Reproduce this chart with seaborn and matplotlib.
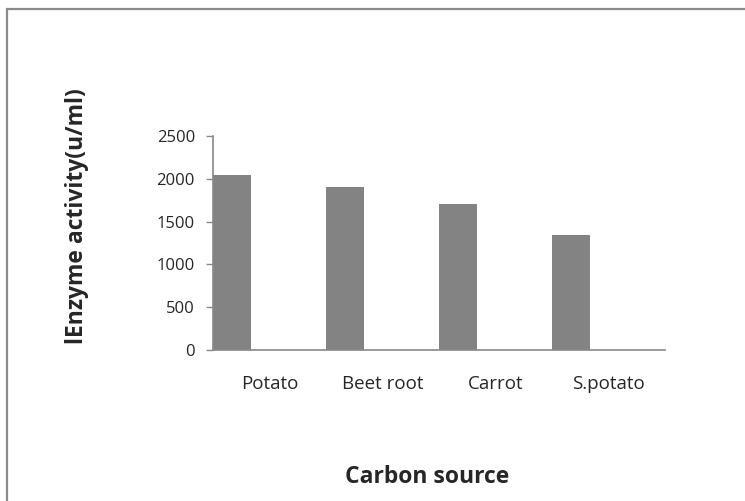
import matplotlib
matplotlib.use("Agg")
import matplotlib.pyplot as plt
import seaborn as sns
import pandas as pd
from matplotlib.patches import Rectangle

categories = ["Potato", "Beet root", "Carrot", "S.potato"]
activity = [2040, 1905, 1700, 1345]
series_names = ["Activity", "blank1", "blank2"]
yticks = [0, 500, 1000, 1500, 2000, 2500]

rows = []
for c, v in zip(categories, activity):
    rows.append({"cat": c, "series": series_names[0], "val": v})
    rows.append({"cat": c, "series": series_names[1], "val": 0})
    rows.append({"cat": c, "series": series_names[2], "val": 0})
df = pd.DataFrame(rows)

sns.set_theme(style="white")
plt.rcParams["font.family"] = ["Open Sans", "DejaVu Sans"]

fig = plt.figure(figsize=(7.45, 5.01), dpi=100)
ax = fig.add_axes([213/745, 1-350/501, 452/745, 214/501])

sns.barplot(data=df, x="cat", y="val", hue="series", order=categories,
            hue_order=series_names, width=1.0, dodge=True,
            palette=["#838383", "#838383", "#838383"], linewidth=0,
            errorbar=None, legend=False, ax=ax)

ax.set_xlim(-0.5, 3.5)
ax.set_ylim(0, 2500)
ax.set_yticks(yticks)
ax.set_yticklabels([str(t) for t in yticks], fontsize=12)
ax.set_xticks(range(len(categories)))
ax.set_xticklabels(categories, fontsize=13.5)
ax.tick_params(axis="y", length=5, width=1, color="#888888", pad=8, left=True)
ax.tick_params(axis="x", length=0, pad=18)

for s in ["top", "right"]:
    ax.spines[s].set_visible(False)
for s in ["left", "bottom"]:
    ax.spines[s].set_color("#888888")
    ax.spines[s].set_linewidth(1.2)

ax.set_xlabel("Carbon source", fontsize=16.5, fontweight="bold")
ax.set_ylabel("lEnzyme activity(u/ml)", fontsize=16.5, fontweight="bold")
ax.xaxis.set_label_coords(0.473, -0.537)
ax.yaxis.set_label_coords(-0.275, 0.626)

frame = Rectangle((7.5/745, -0.1), 2.0, 1 - 9/501 + 0.1, transform=fig.transFigure,
                  fill=False, edgecolor="#8a8a8a", linewidth=1.6, clip_on=False)
fig.patches.append(frame)

fig.savefig("out.png", dpi=100)
